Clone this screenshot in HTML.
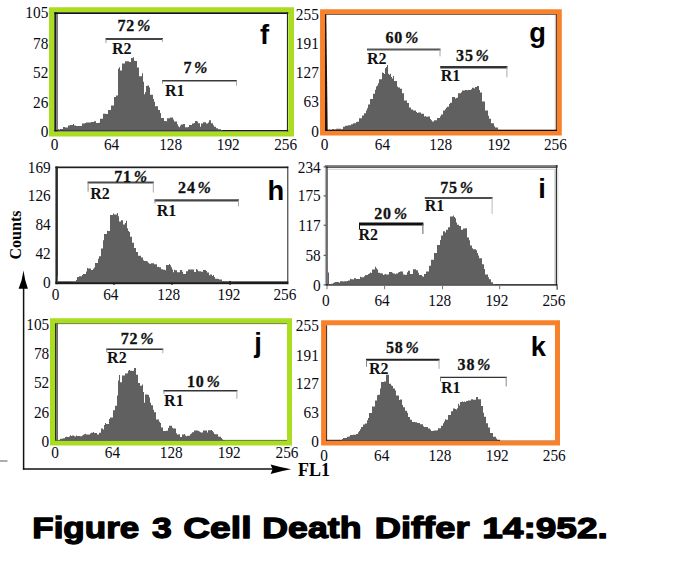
<!DOCTYPE html>
<html><head><meta charset="utf-8"><title>Figure 3</title>
<style>
html,body{margin:0;padding:0;background:#fff;}
body{width:680px;height:562px;overflow:hidden;font-family:"Liberation Serif",serif;}
svg{display:block;}
</style></head>
<body>
<svg width="680" height="562" viewBox="0 0 680 562">
<rect width="680" height="562" fill="#fff"/>
<path fill-rule="evenodd" fill="#aadc20" d="M49,7.2H294V136.6H49ZM54.3,12.3H288.3V131.4H54.3Z"/>
<rect x="54.3" y="12.3" width="1.9" height="119.1" fill="#1c1c1c"/>
<rect x="56.2" y="12.3" width="1.7" height="119.1" fill="#6c6c6c"/>
<rect x="54.3" y="12.3" width="234" height="1.7" fill="#111"/>
<rect x="286.9" y="12.3" width="1.1" height="119.1" fill="#2a2a2a"/>
<rect x="54.3" y="130" width="234" height="1.4" fill="#1c1c1c"/>
<path d="M58,130.5L58,129.3L59,129.3L59,129.5L60,129.5L60,129.0L62,129.0L62,129.0L63,129.0L63,127.0L65,127.0L65,127.5L66,127.5L66,127.6L67,127.6L67,127.6L68,127.6L68,125.4L70,125.4L70,125.0L73,125.0L73,124.1L74,124.1L74,125.4L76,125.4L76,125.9L79,125.9L79,126.0L80,126.0L80,126.0L82,126.0L82,123.5L85,123.5L85,122.9L86,122.9L86,122.4L89,122.4L89,122.5L91,122.5L91,121.9L92,121.9L92,122.0L94,122.0L94,121.3L96,121.3L96,123.0L99,123.0L99,122.8L100,122.8L100,118.7L103,118.7L103,113.8L106,113.8L106,114.0L108,114.0L108,110.1L111,110.1L111,105.4L114,105.4L114,96.9L116,96.9L116,95.6L118,95.6L118,68.7L119,68.7L119,67.2L120,67.2L120,70.4L122,70.4L122,63.4L125,63.4L125,61.3L126,61.3L126,61.3L129,61.3L129,61.9L131,61.9L131,58.0L133,58.0L133,57.3L134,57.3L134,60.7L135,60.7L135,61.0L137,61.0L137,67.6L139,67.6L139,76.2L142,76.2L142,73.3L143,73.3L143,81.8L144,81.8L144,94.2L145,94.2L145,92.2L146,92.2L146,86.1L147,86.1L147,85.8L148,85.8L148,85.4L149,85.4L149,87.5L150,87.5L150,94.8L153,94.8L153,99.0L154,99.0L154,101.7L155,101.7L155,106.3L158,106.3L158,110.0L160,110.0L160,113.1L161,113.1L161,118.1L164,118.1L164,120.9L166,120.9L166,121.2L167,121.2L167,118.3L170,118.3L170,117.4L173,117.4L173,119.4L174,119.4L174,121.6L177,121.6L177,124.2L178,124.2L178,126.3L179,126.3L179,127.3L180,127.3L180,125.6L181,125.6L181,124.5L183,124.5L183,124.0L185,124.0L185,127.2L188,127.2L188,127.0L189,127.0L189,125.1L192,125.1L192,123.4L194,123.4L194,123.1L195,123.1L195,121.1L197,121.1L197,121.5L198,121.5L198,123.3L200,123.3L200,126.8L201,126.8L201,123.6L203,123.6L203,122.3L206,122.3L206,123.4L208,123.4L208,122.6L209,122.6L209,120.3L211,120.3L211,123.2L213,123.2L213,125.3L214,125.3L214,126.7L216,126.7L216,128.3L218,128.3L218,129.2L219,129.2L219,129.2L221,129.2L221,130.1L222,130.1L222,130.3L223,130.3L223,130.5Z" fill="#606060"/>
<line x1="105.5" y1="39" x2="163" y2="39" stroke="#444" stroke-width="2"/>
<line x1="106.0" y1="39" x2="106.0" y2="43" stroke="#999" stroke-width="1"/>
<line x1="162.5" y1="39" x2="162.5" y2="42" stroke="#aaa" stroke-width="1"/>
<text x="117.4" y="31" font-size="16" text-anchor="start" font-weight="bold" font-family='"Liberation Serif", serif' fill="#111" letter-spacing="0.8" stroke="#111" stroke-width="0.3">72<tspan font-style="italic" dx="1.9">%</tspan></text>
<text x="112.0" y="54" font-size="16" text-anchor="start" font-weight="bold" font-family='"Liberation Serif", serif' fill="#111">R2</text>
<line x1="162" y1="80.7" x2="237" y2="80.7" stroke="#3a3a3a" stroke-width="1.5"/>
<line x1="162.5" y1="80.7" x2="162.5" y2="83.7" stroke="#999" stroke-width="1"/>
<line x1="236.5" y1="80.7" x2="236.5" y2="85.7" stroke="#aaa" stroke-width="1"/>
<text x="183.4" y="73" font-size="16" text-anchor="start" font-weight="bold" font-family='"Liberation Serif", serif' fill="#111" letter-spacing="0.8" stroke="#111" stroke-width="0.3">7<tspan font-style="italic" dx="1.9">%</tspan></text>
<text x="165.0" y="95.6" font-size="16" text-anchor="start" font-weight="bold" font-family='"Liberation Serif", serif' fill="#111">R1</text>
<text x="260" y="44" font-size="27.3" text-anchor="start" font-weight="bold" font-family='"Liberation Sans", sans-serif' >f</text>
<path fill-rule="evenodd" fill="#f8822b" d="M320.05,9.2H561.8V135.5H320.05ZM325,14.1H557V130.9H325Z"/>
<path d="M325,14.1 L326.3,14.1 L327.7,130.9 L325,130.9 Z" fill="#20140c"/>
<rect x="325" y="14.1" width="232" height="0.8" fill="#5a4030"/>
<rect x="554.8" y="14.9" width="1.2" height="116" fill="#c8c8c8"/>
<rect x="556.1" y="14.1" width="0.9" height="116.8" fill="#50301a"/>
<rect x="325" y="129.7" width="232" height="1.3" fill="#140a06"/>
<path d="M328,130.2L328,129.9L329,129.9L329,129.3L330,129.3L330,130.1L331,130.1L331,130.2L332,130.2L332,129.0L334,129.0L334,129.5L336,129.5L336,128.8L338,128.8L338,128.8L339,128.8L339,128.8L341,128.8L341,129.6L342,129.6L342,128.9L343,128.9L343,126.8L345,126.8L345,125.8L348,125.8L348,125.2L350,125.2L350,125.3L351,125.3L351,124.2L353,124.2L353,123.2L356,123.2L356,122.0L357,122.0L357,121.7L359,121.7L359,118.3L362,118.3L362,115.6L364,115.6L364,113.2L366,113.2L366,110.4L367,110.4L367,108.3L368,108.3L368,104.6L370,104.6L370,98.9L373,98.9L373,93.8L375,93.8L375,89.8L376,89.8L376,86.6L377,86.6L377,85.4L378,85.4L378,83.3L379,83.3L379,79.3L382,79.3L382,72.6L383,72.6L383,73.0L384,73.0L384,74.0L385,74.0L385,68.2L386,68.2L386,67.0L387,67.0L387,65.1L388,65.1L388,73.8L389,73.8L389,74.7L390,74.7L390,73.8L391,73.8L391,76.9L392,76.9L392,78.6L393,78.6L393,76.0L394,76.0L394,81.1L397,81.1L397,86.5L398,86.5L398,87.6L400,87.6L400,88.7L402,88.7L402,93.3L404,93.3L404,100.6L407,100.6L407,103.1L409,103.1L409,107.5L411,107.5L411,109.4L413,109.4L413,110.6L414,110.6L414,110.5L416,110.5L416,111.9L417,111.9L417,113.1L418,113.1L418,112.6L421,112.6L421,113.8L424,113.8L424,116.6L425,116.6L425,115.9L426,115.9L426,116.7L428,116.7L428,116.5L430,116.5L430,118.9L431,118.9L431,120.3L432,120.3L432,121.5L433,121.5L433,121.6L434,121.6L434,120.3L437,120.3L437,118.1L440,118.1L440,116.2L441,116.2L441,114.5L443,114.5L443,110.6L445,110.6L445,109.3L446,109.3L446,107.7L447,107.7L447,106.8L449,106.8L449,104.0L450,104.0L450,102.8L452,102.8L452,97.0L455,97.0L455,98.5L456,98.5L456,98.0L457,98.0L457,97.6L458,97.6L458,93.3L461,93.3L461,92.3L462,92.3L462,90.4L465,90.4L465,89.9L467,89.9L467,90.3L468,90.3L468,89.9L471,89.9L471,89.3L472,89.3L472,87.7L473,87.7L473,87.7L474,87.7L474,88.6L475,88.6L475,86.9L477,86.9L477,86.0L479,86.0L479,90.1L480,90.1L480,92.6L482,92.6L482,101.5L485,101.5L485,110.6L488,110.6L488,115.8L489,115.8L489,118.7L491,118.7L491,123.2L494,123.2L494,126.2L495,126.2L495,127.4L498,127.4L498,129.5L499,129.5L499,130.2Z" fill="#606060"/>
<line x1="367" y1="49.4" x2="440.5" y2="49.4" stroke="#555" stroke-width="2"/>
<line x1="440.0" y1="49.4" x2="440.0" y2="56.4" stroke="#aaa" stroke-width="1"/>
<text x="385.4" y="42.7" font-size="16" text-anchor="start" font-weight="bold" font-family='"Liberation Serif", serif' fill="#111" letter-spacing="0.8" stroke="#111" stroke-width="0.3">60<tspan font-style="italic" dx="1.9">%</tspan></text>
<text x="366.9" y="64" font-size="16" text-anchor="start" font-weight="bold" font-family='"Liberation Serif", serif' fill="#111">R2</text>
<line x1="440.2" y1="67.3" x2="507.4" y2="67.3" stroke="#333" stroke-width="2.6"/>
<line x1="506.9" y1="67.3" x2="506.9" y2="77.3" stroke="#aaa" stroke-width="1"/>
<text x="456.09999999999997" y="60.6" font-size="16" text-anchor="start" font-weight="bold" font-family='"Liberation Serif", serif' fill="#111" letter-spacing="0.8" stroke="#111" stroke-width="0.3">35<tspan font-style="italic" dx="1.9">%</tspan></text>
<text x="440.8" y="81.4" font-size="16" text-anchor="start" font-weight="bold" font-family='"Liberation Serif", serif' fill="#111">R1</text>
<text x="529.2" y="41.8" font-size="27.3" text-anchor="start" font-weight="bold" font-family='"Liberation Sans", sans-serif' >g</text>
<rect x="55.4" y="166.5" width="2.5" height="117.7" fill="#2a2a2a"/>
<rect x="55.4" y="166.5" width="232.9" height="1.7" fill="#1e1e1e"/>
<rect x="287.3" y="166.5" width="1.0" height="117.7" fill="#222"/>
<rect x="55.4" y="281.4" width="232.9" height="2.8" fill="#1c1c1c"/>
<ellipse cx="114" cy="282.8" rx="1.3" ry="2.1" fill="#1c1c1c"/>
<ellipse cx="172" cy="282.8" rx="1.3" ry="2.1" fill="#1c1c1c"/>
<ellipse cx="230.1" cy="282.8" rx="1.3" ry="2.1" fill="#1c1c1c"/>
<path d="M57,282.2L57,276.3L58,276.3L58,282.2L60,282.2L60,282.2L62,282.2L62,282.2L65,282.2L65,282.2L67,282.2L67,282.2L68,282.2L68,282.2L70,282.2L70,282.2L71,282.2L71,282.1L73,282.1L73,282.1L74,282.1L74,282.0L76,282.0L76,279.9L77,279.9L77,276.9L79,276.9L79,276.3L82,276.3L82,275.0L83,275.0L83,274.1L86,274.1L86,271.6L87,271.6L87,268.0L88,268.0L88,268.5L89,268.5L89,268.6L91,268.6L91,270.0L93,270.0L93,268.8L94,268.8L94,267.5L95,267.5L95,263.1L98,263.1L98,258.8L99,258.8L99,256.3L101,256.3L101,248.6L103,248.6L103,240.2L104,240.2L104,233.9L107,233.9L107,230.7L108,230.7L108,231.0L110,231.0L110,215.0L113,215.0L113,213.6L114,213.6L114,214.4L117,214.4L117,213.0L118,213.0L118,216.2L119,216.2L119,221.6L120,221.6L120,221.4L121,221.4L121,220.3L123,220.3L123,224.5L125,224.5L125,223.0L126,223.0L126,220.7L127,220.7L127,228.3L128,228.3L128,230.9L129,230.9L129,232.0L130,232.0L130,236.8L132,236.8L132,242.7L134,242.7L134,248.1L136,248.1L136,252.1L138,252.1L138,255.8L141,255.8L141,257.4L142,257.4L142,257.5L143,257.5L143,260.3L144,260.3L144,261.1L147,261.1L147,261.6L148,261.6L148,262.7L149,262.7L149,263.8L151,263.8L151,263.2L154,263.2L154,264.3L157,264.3L157,266.9L158,266.9L158,266.7L159,266.7L159,267.3L161,267.3L161,269.3L163,269.3L163,269.8L165,269.8L165,270.2L166,270.2L166,265.0L169,265.0L169,263.9L170,263.9L170,265.2L171,265.2L171,267.2L172,267.2L172,269.5L173,269.5L173,272.3L174,272.3L174,269.8L175,269.8L175,270.2L177,270.2L177,272.2L180,272.2L180,270.0L182,270.0L182,271.7L183,271.7L183,273.9L184,273.9L184,274.1L186,274.1L186,271.3L188,271.3L188,269.6L191,269.6L191,269.6L194,269.6L194,272.1L196,272.1L196,269.0L197,269.0L197,269.8L198,269.8L198,271.3L201,271.3L201,271.8L203,271.8L203,270.0L206,270.0L206,271.1L207,271.1L207,272.4L209,272.4L209,275.2L210,275.2L210,274.5L212,274.5L212,276.0L213,276.0L213,275.0L214,275.0L214,277.1L215,277.1L215,278.7L218,278.7L218,279.0L219,279.0L219,279.6L221,279.6L221,279.4L222,279.4L222,281.0L223,281.0L223,281.2L224,281.2L224,281.4L226,281.4L226,280.9L227,280.9L227,281.9L229,281.9L229,282.2L230,282.2L230,281.8L231,281.8L231,282.0L233,282.0L233,282.2Z" fill="#606060"/>
<line x1="87.6" y1="182.6" x2="153.8" y2="182.6" stroke="#4a4a4a" stroke-width="2"/>
<line x1="88.1" y1="182.6" x2="88.1" y2="191.6" stroke="#888" stroke-width="1"/>
<line x1="153.3" y1="182.6" x2="153.3" y2="192.6" stroke="#aaa" stroke-width="1"/>
<text x="114.2" y="181.5" font-size="16" text-anchor="start" font-weight="bold" font-family='"Liberation Serif", serif' fill="#111" letter-spacing="0.8" stroke="#111" stroke-width="0.3">71<tspan font-style="italic" dx="1.9">%</tspan></text>
<text x="90.2" y="199.4" font-size="16" text-anchor="start" font-weight="bold" font-family='"Liberation Serif", serif' fill="#111">R2</text>
<line x1="154.5" y1="200.4" x2="239" y2="200.4" stroke="#444" stroke-width="2.4"/>
<line x1="155.0" y1="200.4" x2="155.0" y2="203.4" stroke="#999" stroke-width="1"/>
<line x1="238.5" y1="200.4" x2="238.5" y2="206.4" stroke="#aaa" stroke-width="1"/>
<text x="178.1" y="193.2" font-size="16" text-anchor="start" font-weight="bold" font-family='"Liberation Serif", serif' fill="#111" letter-spacing="0.8" stroke="#111" stroke-width="0.3">24<tspan font-style="italic" dx="1.9">%</tspan></text>
<text x="156.8" y="216" font-size="16" text-anchor="start" font-weight="bold" font-family='"Liberation Serif", serif' fill="#111">R1</text>
<text x="267.6" y="200" font-size="27.3" text-anchor="start" font-weight="bold" font-family='"Liberation Sans", sans-serif' >h</text>
<rect x="324.9" y="165" width="1.1" height="120.6" fill="#b4b4b4"/>
<rect x="326" y="165" width="1.9" height="120.6" fill="#6a6a6a"/>
<rect x="324.9" y="165" width="233" height="1.6" fill="#8a8a8a"/>
<rect x="326" y="166.6" width="231.4" height="1.1" fill="#1a1a1a"/>
<rect x="328" y="168.8" width="226.4" height="0.8" fill="#c0c0c0"/>
<rect x="554.3" y="168.8" width="1.6" height="115.4" fill="#cccccc"/>
<rect x="555.9" y="165" width="1.4" height="120.6" fill="#333"/>
<rect x="557.3" y="168" width="1.6" height="116" fill="#efefef"/>
<rect x="326" y="284.2" width="231.4" height="1.4" fill="#161616"/>
<line x1="323.6" y1="166.9" x2="326" y2="166.9" stroke="#444" stroke-width="1"/>
<line x1="323.6" y1="195.9" x2="326" y2="195.9" stroke="#444" stroke-width="1"/>
<line x1="323.6" y1="225.2" x2="326" y2="225.2" stroke="#444" stroke-width="1"/>
<line x1="323.6" y1="255.3" x2="326" y2="255.3" stroke="#444" stroke-width="1"/>
<line x1="323.6" y1="284.9" x2="326" y2="284.9" stroke="#444" stroke-width="1"/>
<rect x="326.5" y="285.6" width="1.0" height="3.6" fill="#777"/>
<rect x="384.1" y="285.6" width="1.0" height="3.6" fill="#777"/>
<rect x="442.0" y="285.6" width="1.0" height="3.6" fill="#777"/>
<rect x="499.2" y="285.6" width="1.0" height="3.6" fill="#777"/>
<rect x="556.6" y="285.6" width="1.0" height="4.2" fill="#222"/>
<path d="M328,284.7L328,272.4L329,272.4L329,284.3L331,284.3L331,283.7L333,283.7L333,283.1L334,283.1L334,282.4L335,282.4L335,282.1L336,282.1L336,282.0L339,282.0L339,282.7L340,282.7L340,281.3L343,281.3L343,281.4L344,281.4L344,281.3L347,281.3L347,280.9L348,280.9L348,280.6L350,280.6L350,278.7L351,278.7L351,279.3L353,279.3L353,279.4L354,279.4L354,278.1L355,278.1L355,278.2L356,278.2L356,278.9L357,278.9L357,278.9L360,278.9L360,276.8L361,276.8L361,277.2L364,277.2L364,276.2L365,276.2L365,275.1L368,275.1L368,274.1L369,274.1L369,273.5L370,273.5L370,272.5L371,272.5L371,273.1L372,273.1L372,269.6L375,269.6L375,266.8L376,266.8L376,268.2L377,268.2L377,269.5L378,269.5L378,272.7L380,272.7L380,273.2L382,273.2L382,273.5L383,273.5L383,274.9L384,274.9L384,274.4L385,274.4L385,273.9L386,273.9L386,274.4L388,274.4L388,274.6L389,274.6L389,272.1L392,272.1L392,272.7L393,272.7L393,273.4L395,273.4L395,274.3L396,274.3L396,273.6L398,273.6L398,272.5L399,272.5L399,272.1L400,272.1L400,271.5L403,271.5L403,274.4L405,274.4L405,274.9L406,274.9L406,274.7L407,274.7L407,272.3L408,272.3L408,270.7L410,270.7L410,274.1L413,274.1L413,269.3L416,269.3L416,270.3L418,270.3L418,272.8L419,272.8L419,275.1L422,275.1L422,276.3L423,276.3L423,276.8L424,276.8L424,274.0L426,274.0L426,271.4L429,271.4L429,265.8L431,265.8L431,259.7L434,259.7L434,253.0L437,253.0L437,244.9L440,244.9L440,239.9L441,239.9L441,235.5L443,235.5L443,231.3L445,231.3L445,232.4L446,232.4L446,229.7L448,229.7L448,227.2L450,227.2L450,216.5L453,216.5L453,215.6L454,215.6L454,217.1L455,217.1L455,218.3L456,218.3L456,222.5L457,222.5L457,224.8L459,224.8L459,226.1L461,226.1L461,229.7L463,229.7L463,228.4L465,228.4L465,228.3L467,228.3L467,237.4L469,237.4L469,240.2L470,240.2L470,245.5L472,245.5L472,248.2L473,248.2L473,249.2L476,249.2L476,250.3L477,250.3L477,252.9L478,252.9L478,255.6L479,255.6L479,258.3L482,258.3L482,264.2L484,264.2L484,269.1L485,269.1L485,274.6L488,274.6L488,277.2L489,277.2L489,279.2L491,279.2L491,282.3L493,282.3L493,284.3L494,284.3L494,284.3L495,284.3L495,284.7Z" fill="#606060"/>
<line x1="359" y1="224" x2="423.4" y2="224" stroke="#111" stroke-width="3"/>
<line x1="359.5" y1="224" x2="359.5" y2="229" stroke="#111" stroke-width="1"/>
<line x1="422.9" y1="224" x2="422.9" y2="234" stroke="#666" stroke-width="1"/>
<text x="374.29999999999995" y="218.9" font-size="16" text-anchor="start" font-weight="bold" font-family='"Liberation Serif", serif' fill="#111" letter-spacing="0.8" stroke="#111" stroke-width="0.3">20<tspan font-style="italic" dx="1.9">%</tspan></text>
<text x="358.4" y="240.2" font-size="16" text-anchor="start" font-weight="bold" font-family='"Liberation Serif", serif' fill="#111">R2</text>
<line x1="424.8" y1="198" x2="492.6" y2="198" stroke="#111" stroke-width="1.3"/>
<line x1="492.1" y1="198" x2="492.1" y2="214" stroke="#bbb" stroke-width="1"/>
<text x="440.2" y="192.7" font-size="16" text-anchor="start" font-weight="bold" font-family='"Liberation Serif", serif' fill="#111" letter-spacing="0.8" stroke="#111" stroke-width="0.3">75<tspan font-style="italic" dx="1.9">%</tspan></text>
<text x="424.8" y="211.4" font-size="16" text-anchor="start" font-weight="bold" font-family='"Liberation Serif", serif' fill="#111">R1</text>
<text x="538.3" y="198" font-size="27.3" text-anchor="start" font-weight="bold" font-family='"Liberation Sans", sans-serif' >i</text>
<path fill-rule="evenodd" fill="#aadc20" d="M50,318.2H292V445.5H50ZM55,323.3H287V440.6H55Z"/>
<rect x="55" y="323.3" width="1.6" height="117.3" fill="#2a3010"/>
<rect x="56.6" y="323.3" width="1.4" height="117.3" fill="#6c6c6c"/>
<rect x="55" y="323.3" width="232" height="0.8" fill="#556020"/>
<rect x="55" y="439.9" width="232" height="0.8" fill="#4a5a18"/>
<path d="M58,440.8L58,440.5L60,440.5L60,438.7L63,438.7L63,438.2L65,438.2L65,436.9L66,436.9L66,436.8L67,436.8L67,437.0L69,437.0L69,436.5L70,436.5L70,435.2L71,435.2L71,436.0L72,436.0L72,435.6L74,435.6L74,436.3L75,436.3L75,436.4L76,436.4L76,435.4L77,435.4L77,436.0L79,436.0L79,436.1L80,436.1L80,436.3L82,436.3L82,435.6L83,435.6L83,434.8L84,434.8L84,434.2L85,434.2L85,433.8L86,433.8L86,434.4L88,434.4L88,434.4L90,434.4L90,433.5L91,433.5L91,432.8L93,432.8L93,432.1L94,432.1L94,432.9L96,432.9L96,432.9L97,432.9L97,434.5L99,434.5L99,432.7L101,432.7L101,428.4L103,428.4L103,429.6L104,429.6L104,425.1L105,425.1L105,422.9L106,422.9L106,423.9L109,423.9L109,419.0L110,419.0L110,417.6L113,417.6L113,410.2L115,410.2L115,405.8L117,405.8L117,395.5L118,395.5L118,380.4L119,380.4L119,375.1L120,375.1L120,382.3L122,382.3L122,375.4L125,375.4L125,373.6L127,373.6L127,373.3L128,373.3L128,370.8L129,370.8L129,370.0L130,370.0L130,370.7L132,370.7L132,370.9L133,370.9L133,370.7L134,370.7L134,368.1L136,368.1L136,374.7L138,374.7L138,382.9L140,382.9L140,385.8L142,385.8L142,384.5L143,384.5L143,391.9L144,391.9L144,402.7L145,402.7L145,394.5L148,394.5L148,394.9L149,394.9L149,397.6L150,397.6L150,402.7L151,402.7L151,405.2L153,405.2L153,409.7L154,409.7L154,412.3L156,412.3L156,419.5L159,419.5L159,421.7L160,421.7L160,423.1L161,423.1L161,427.4L163,427.4L163,431.0L166,431.0L166,430.7L168,430.7L168,427.9L169,427.9L169,425.7L172,425.7L172,427.7L173,427.7L173,428.6L176,428.6L176,433.2L177,433.2L177,434.4L179,434.4L179,434.3L180,434.3L180,436.9L182,436.9L182,434.5L184,434.5L184,433.9L185,433.9L185,435.5L186,435.5L186,436.2L187,436.2L187,435.7L190,435.7L190,434.3L191,434.3L191,433.4L192,433.4L192,432.3L194,432.3L194,430.5L195,430.5L195,430.6L198,430.6L198,430.9L199,430.9L199,431.4L200,431.4L200,432.2L201,432.2L201,432.5L203,432.5L203,430.4L205,430.4L205,430.6L207,430.6L207,432.6L208,432.6L208,430.3L211,430.3L211,430.0L212,430.0L212,431.1L213,431.1L213,432.3L214,432.3L214,434.0L215,434.0L215,434.3L218,434.3L218,436.4L219,436.4L219,436.8L221,436.8L221,438.1L222,438.1L222,439.3L223,439.3L223,440.1L224,440.1L224,440.2L225,440.2L225,440.8Z" fill="#606060"/>
<line x1="106.2" y1="349.2" x2="163.3" y2="349.2" stroke="#333" stroke-width="1.5"/>
<line x1="106.7" y1="349.2" x2="106.7" y2="352.2" stroke="#999" stroke-width="1"/>
<line x1="162.8" y1="349.2" x2="162.8" y2="353.2" stroke="#aaa" stroke-width="1"/>
<text x="120.80000000000001" y="344" font-size="16" text-anchor="start" font-weight="bold" font-family='"Liberation Serif", serif' fill="#111" letter-spacing="0.8" stroke="#111" stroke-width="0.3">72<tspan font-style="italic" dx="1.9">%</tspan></text>
<text x="107.1" y="363.3" font-size="16" text-anchor="start" font-weight="bold" font-family='"Liberation Serif", serif' fill="#111">R2</text>
<line x1="163.5" y1="390.8" x2="237.4" y2="390.8" stroke="#333" stroke-width="1.5"/>
<line x1="164.0" y1="390.8" x2="164.0" y2="393.8" stroke="#999" stroke-width="1"/>
<line x1="236.9" y1="390.8" x2="236.9" y2="398.8" stroke="#aaa" stroke-width="1"/>
<text x="186.9" y="386.7" font-size="16" text-anchor="start" font-weight="bold" font-family='"Liberation Serif", serif' fill="#111" letter-spacing="0.8" stroke="#111" stroke-width="0.3">10<tspan font-style="italic" dx="1.9">%</tspan></text>
<text x="164.1" y="406" font-size="16" text-anchor="start" font-weight="bold" font-family='"Liberation Serif", serif' fill="#111">R1</text>
<text x="254.3" y="352" font-size="27.3" text-anchor="start" font-weight="bold" font-family='"Liberation Sans", sans-serif' >j</text>
<path fill-rule="evenodd" fill="#f8822b" d="M321.1,320.2H560V445.4H321.1ZM326.1,325.3H555V440.7H326.1Z"/>
<rect x="326.1" y="325.3" width="1.0" height="115.4" fill="#3a2414"/>
<rect x="326.1" y="439.8" width="174" height="1.0" fill="#20140c"/>
<rect x="500" y="440.1" width="55" height="0.6" fill="#b08060"/>
<path d="M335,440.6L335,440.6L337,440.6L337,440.6L338,440.6L338,440.6L340,440.6L340,440.6L341,440.6L341,440.3L342,440.3L342,439.1L343,439.1L343,437.9L346,437.9L346,438.1L347,438.1L347,436.8L349,436.8L349,436.4L350,436.4L350,435.1L353,435.1L353,434.7L356,434.7L356,433.9L357,433.9L357,434.0L358,434.0L358,432.3L359,432.3L359,431.1L360,431.1L360,429.2L361,429.2L361,427.1L363,427.1L363,424.6L365,424.6L365,423.4L367,423.4L367,420.3L368,420.3L368,417.9L369,417.9L369,413.1L372,413.1L372,406.6L375,406.6L375,400.6L377,400.6L377,395.2L378,395.2L378,394.7L380,394.7L380,388.6L381,388.6L381,382.1L384,382.1L384,381.6L386,381.6L386,374.8L389,374.8L389,383.8L391,383.8L391,385.5L392,385.5L392,386.0L393,386.0L393,388.6L395,388.6L395,390.5L396,390.5L396,395.4L399,395.4L399,399.9L400,399.9L400,399.4L402,399.4L402,404.9L403,404.9L403,407.2L405,407.2L405,410.7L407,410.7L407,412.8L408,412.8L408,417.1L410,417.1L410,419.7L412,419.7L412,421.9L415,421.9L415,422.2L417,422.2L417,423.1L419,423.1L419,423.0L420,423.0L420,424.2L423,424.2L423,426.3L424,426.3L424,427.0L425,427.0L425,427.1L427,427.1L427,427.1L428,427.1L428,428.6L430,428.6L430,429.4L431,429.4L431,431.1L433,431.1L433,430.7L434,430.7L434,430.6L437,430.6L437,430.2L438,430.2L438,428.2L441,428.2L441,425.7L443,425.7L443,423.3L444,423.3L444,421.6L445,421.6L445,419.2L446,419.2L446,419.8L448,419.8L448,415.0L451,415.0L451,411.3L453,411.3L453,408.5L455,408.5L455,408.9L456,408.9L456,409.4L457,409.4L457,408.2L458,408.2L458,403.8L459,403.8L459,405.5L460,405.5L460,401.9L462,401.9L462,401.6L463,401.6L463,401.9L464,401.9L464,401.4L465,401.4L465,401.9L466,401.9L466,400.9L468,400.9L468,400.5L470,400.5L470,400.4L471,400.4L471,399.3L473,399.3L473,399.7L476,399.7L476,397.1L478,397.1L478,399.2L481,399.2L481,405.9L483,405.9L483,412.8L484,412.8L484,416.8L486,416.8L486,423.3L488,423.3L488,427.5L490,427.5L490,433.1L493,433.1L493,436.8L496,436.8L496,438.5L497,438.5L497,440.6L499,440.6L499,440.6Z" fill="#606060"/>
<line x1="366" y1="359.8" x2="439.5" y2="359.8" stroke="#222" stroke-width="2"/>
<line x1="366.5" y1="359.8" x2="366.5" y2="366.8" stroke="#888" stroke-width="1"/>
<line x1="439.0" y1="359.8" x2="439.0" y2="368.8" stroke="#aaa" stroke-width="1"/>
<text x="386.0" y="353.4" font-size="16" text-anchor="start" font-weight="bold" font-family='"Liberation Serif", serif' fill="#111" letter-spacing="0.8" stroke="#111" stroke-width="0.3">58<tspan font-style="italic" dx="1.9">%</tspan></text>
<text x="369.0" y="374.2" font-size="16" text-anchor="start" font-weight="bold" font-family='"Liberation Serif", serif' fill="#111">R2</text>
<line x1="440" y1="377.4" x2="506.7" y2="377.4" stroke="#333" stroke-width="1.4"/>
<line x1="440.5" y1="377.4" x2="440.5" y2="381.4" stroke="#888" stroke-width="1"/>
<line x1="506.2" y1="377.4" x2="506.2" y2="386.4" stroke="#888" stroke-width="1"/>
<text x="457.59999999999997" y="370.2" font-size="16" text-anchor="start" font-weight="bold" font-family='"Liberation Serif", serif' fill="#111" letter-spacing="0.8" stroke="#111" stroke-width="0.3">38<tspan font-style="italic" dx="1.9">%</tspan></text>
<text x="440.9" y="393.4" font-size="16" text-anchor="start" font-weight="bold" font-family='"Liberation Serif", serif' fill="#111">R1</text>
<text x="530.7" y="356" font-size="27.3" text-anchor="start" font-weight="bold" font-family='"Liberation Sans", sans-serif' >k</text>
<text transform="translate(48.3,18.4) scale(1,1.07)" font-size="15.3" text-anchor="end" font-family='"Liberation Serif", serif' fill="#0a0a14">105</text>
<text transform="translate(48.3,48.5) scale(1,1.07)" font-size="15.3" text-anchor="end" font-family='"Liberation Serif", serif' fill="#0a0a14">78</text>
<text transform="translate(48.3,77.8) scale(1,1.07)" font-size="15.3" text-anchor="end" font-family='"Liberation Serif", serif' fill="#0a0a14">52</text>
<text transform="translate(48.3,107.6) scale(1,1.07)" font-size="15.3" text-anchor="end" font-family='"Liberation Serif", serif' fill="#0a0a14">26</text>
<text transform="translate(48.3,136.6) scale(1,1.07)" font-size="15.3" text-anchor="end" font-family='"Liberation Serif", serif' fill="#0a0a14">0</text>
<text transform="translate(318.8,20) scale(1,1.07)" font-size="15.3" text-anchor="end" font-family='"Liberation Serif", serif' fill="#0a0a14">255</text>
<text transform="translate(318.8,49) scale(1,1.07)" font-size="15.3" text-anchor="end" font-family='"Liberation Serif", serif' fill="#0a0a14">191</text>
<text transform="translate(318.8,77.8) scale(1,1.07)" font-size="15.3" text-anchor="end" font-family='"Liberation Serif", serif' fill="#0a0a14">127</text>
<text transform="translate(318.8,107.4) scale(1,1.07)" font-size="15.3" text-anchor="end" font-family='"Liberation Serif", serif' fill="#0a0a14">63</text>
<text transform="translate(318.8,136.5) scale(1,1.07)" font-size="15.3" text-anchor="end" font-family='"Liberation Serif", serif' fill="#0a0a14">0</text>
<text transform="translate(50.7,172.6) scale(1,1.07)" font-size="15.3" text-anchor="end" font-family='"Liberation Serif", serif' fill="#0a0a14">169</text>
<text transform="translate(50.7,201) scale(1,1.07)" font-size="15.3" text-anchor="end" font-family='"Liberation Serif", serif' fill="#0a0a14">126</text>
<text transform="translate(50.7,229.9) scale(1,1.07)" font-size="15.3" text-anchor="end" font-family='"Liberation Serif", serif' fill="#0a0a14">84</text>
<text transform="translate(50.7,258.9) scale(1,1.07)" font-size="15.3" text-anchor="end" font-family='"Liberation Serif", serif' fill="#0a0a14">42</text>
<text transform="translate(50.7,288.1) scale(1,1.07)" font-size="15.3" text-anchor="end" font-family='"Liberation Serif", serif' fill="#0a0a14">0</text>
<text transform="translate(320.7,172.6) scale(1,1.07)" font-size="15.3" text-anchor="end" font-family='"Liberation Serif", serif' fill="#0a0a14">234</text>
<text transform="translate(320.7,201.3) scale(1,1.07)" font-size="15.3" text-anchor="end" font-family='"Liberation Serif", serif' fill="#0a0a14">175</text>
<text transform="translate(320.7,230.7) scale(1,1.07)" font-size="15.3" text-anchor="end" font-family='"Liberation Serif", serif' fill="#0a0a14">117</text>
<text transform="translate(320.7,260.8) scale(1,1.07)" font-size="15.3" text-anchor="end" font-family='"Liberation Serif", serif' fill="#0a0a14">58</text>
<text transform="translate(320.7,290.6) scale(1,1.07)" font-size="15.3" text-anchor="end" font-family='"Liberation Serif", serif' fill="#0a0a14">0</text>
<text transform="translate(49.2,329.8) scale(1,1.07)" font-size="15.3" text-anchor="end" font-family='"Liberation Serif", serif' fill="#0a0a14">105</text>
<text transform="translate(49.2,358.6) scale(1,1.07)" font-size="15.3" text-anchor="end" font-family='"Liberation Serif", serif' fill="#0a0a14">78</text>
<text transform="translate(49.2,388.2) scale(1,1.07)" font-size="15.3" text-anchor="end" font-family='"Liberation Serif", serif' fill="#0a0a14">52</text>
<text transform="translate(49.2,417.8) scale(1,1.07)" font-size="15.3" text-anchor="end" font-family='"Liberation Serif", serif' fill="#0a0a14">26</text>
<text transform="translate(49.2,446.8) scale(1,1.07)" font-size="15.3" text-anchor="end" font-family='"Liberation Serif", serif' fill="#0a0a14">0</text>
<text transform="translate(318.8,330.6) scale(1,1.07)" font-size="15.3" text-anchor="end" font-family='"Liberation Serif", serif' fill="#0a0a14">255</text>
<text transform="translate(318.8,361.2) scale(1,1.07)" font-size="15.3" text-anchor="end" font-family='"Liberation Serif", serif' fill="#0a0a14">191</text>
<text transform="translate(318.8,389.2) scale(1,1.07)" font-size="15.3" text-anchor="end" font-family='"Liberation Serif", serif' fill="#0a0a14">127</text>
<text transform="translate(318.8,418.1) scale(1,1.07)" font-size="15.3" text-anchor="end" font-family='"Liberation Serif", serif' fill="#0a0a14">63</text>
<text transform="translate(318.8,447.3) scale(1,1.07)" font-size="15.3" text-anchor="end" font-family='"Liberation Serif", serif' fill="#0a0a14">0</text>
<text transform="translate(54.6,150) scale(1,1.07)" font-size="15.3" text-anchor="middle" font-family='"Liberation Serif", serif' fill="#0a0a14">0</text>
<text transform="translate(111.6,150) scale(1,1.07)" font-size="15.3" text-anchor="middle" font-family='"Liberation Serif", serif' fill="#0a0a14">64</text>
<text transform="translate(170.6,150) scale(1,1.07)" font-size="15.3" text-anchor="middle" font-family='"Liberation Serif", serif' fill="#0a0a14">128</text>
<text transform="translate(228.3,150) scale(1,1.07)" font-size="15.3" text-anchor="middle" font-family='"Liberation Serif", serif' fill="#0a0a14">192</text>
<text transform="translate(285.6,150) scale(1,1.07)" font-size="15.3" text-anchor="middle" font-family='"Liberation Serif", serif' fill="#0a0a14">256</text>
<text transform="translate(324.5,149.8) scale(1,1.07)" font-size="15.3" text-anchor="middle" font-family='"Liberation Serif", serif' fill="#0a0a14">0</text>
<text transform="translate(382.5,149.8) scale(1,1.07)" font-size="15.3" text-anchor="middle" font-family='"Liberation Serif", serif' fill="#0a0a14">64</text>
<text transform="translate(440.7,149.8) scale(1,1.07)" font-size="15.3" text-anchor="middle" font-family='"Liberation Serif", serif' fill="#0a0a14">128</text>
<text transform="translate(499,149.8) scale(1,1.07)" font-size="15.3" text-anchor="middle" font-family='"Liberation Serif", serif' fill="#0a0a14">192</text>
<text transform="translate(555.4,149.8) scale(1,1.07)" font-size="15.3" text-anchor="middle" font-family='"Liberation Serif", serif' fill="#0a0a14">256</text>
<text transform="translate(55.5,300) scale(1,1.07)" font-size="15.3" text-anchor="middle" font-family='"Liberation Serif", serif' fill="#0a0a14">0</text>
<text transform="translate(110.8,300) scale(1,1.07)" font-size="15.3" text-anchor="middle" font-family='"Liberation Serif", serif' fill="#0a0a14">64</text>
<text transform="translate(168.8,300) scale(1,1.07)" font-size="15.3" text-anchor="middle" font-family='"Liberation Serif", serif' fill="#0a0a14">128</text>
<text transform="translate(229,300) scale(1,1.07)" font-size="15.3" text-anchor="middle" font-family='"Liberation Serif", serif' fill="#0a0a14">192</text>
<text transform="translate(284.9,300) scale(1,1.07)" font-size="15.3" text-anchor="middle" font-family='"Liberation Serif", serif' fill="#0a0a14">256</text>
<text transform="translate(325.9,305.7) scale(1,1.07)" font-size="15.3" text-anchor="middle" font-family='"Liberation Serif", serif' fill="#0a0a14">0</text>
<text transform="translate(382.1,305.7) scale(1,1.07)" font-size="15.3" text-anchor="middle" font-family='"Liberation Serif", serif' fill="#0a0a14">64</text>
<text transform="translate(439.8,305.7) scale(1,1.07)" font-size="15.3" text-anchor="middle" font-family='"Liberation Serif", serif' fill="#0a0a14">128</text>
<text transform="translate(496.9,305.7) scale(1,1.07)" font-size="15.3" text-anchor="middle" font-family='"Liberation Serif", serif' fill="#0a0a14">192</text>
<text transform="translate(553.9,305.7) scale(1,1.07)" font-size="15.3" text-anchor="middle" font-family='"Liberation Serif", serif' fill="#0a0a14">256</text>
<text transform="translate(55,458) scale(1,1.07)" font-size="15.3" text-anchor="middle" font-family='"Liberation Serif", serif' fill="#0a0a14">0</text>
<text transform="translate(112.5,458) scale(1,1.07)" font-size="15.3" text-anchor="middle" font-family='"Liberation Serif", serif' fill="#0a0a14">64</text>
<text transform="translate(171.3,458) scale(1,1.07)" font-size="15.3" text-anchor="middle" font-family='"Liberation Serif", serif' fill="#0a0a14">128</text>
<text transform="translate(229.2,458) scale(1,1.07)" font-size="15.3" text-anchor="middle" font-family='"Liberation Serif", serif' fill="#0a0a14">192</text>
<text transform="translate(287,458) scale(1,1.07)" font-size="15.3" text-anchor="middle" font-family='"Liberation Serif", serif' fill="#0a0a14">256</text>
<text transform="translate(324.1,460.5) scale(1,1.07)" font-size="15.3" text-anchor="middle" font-family='"Liberation Serif", serif' fill="#0a0a14">0</text>
<text transform="translate(381.7,460.5) scale(1,1.07)" font-size="15.3" text-anchor="middle" font-family='"Liberation Serif", serif' fill="#0a0a14">64</text>
<text transform="translate(440,460.5) scale(1,1.07)" font-size="15.3" text-anchor="middle" font-family='"Liberation Serif", serif' fill="#0a0a14">128</text>
<text transform="translate(497.3,460.5) scale(1,1.07)" font-size="15.3" text-anchor="middle" font-family='"Liberation Serif", serif' fill="#0a0a14">192</text>
<text transform="translate(554.3,460.5) scale(1,1.07)" font-size="15.3" text-anchor="middle" font-family='"Liberation Serif", serif' fill="#0a0a14">256</text>
<text transform="translate(21,235) rotate(-90)" font-size="16" text-anchor="middle" font-weight="bold" font-family='"Liberation Serif", serif'>Counts</text>
<line x1="23.6" y1="285" x2="23.6" y2="469.6" stroke="#111" stroke-width="1.5"/>
<path d="M23.5,270.6 Q24.6,280 27.9,288.8 L18.6,288.8 Q22.4,280 23.5,270.6 Z" fill="#000"/>
<line x1="22.9" y1="469" x2="275" y2="469" stroke="#111" stroke-width="1.5"/>
<path d="M291.2,469.3 Q281,467.6 270.6,464.6 L272.6,469.3 L270.6,474 Q281,471 291.2,469.3 Z" fill="#000"/>
<text x="298" y="475.7" font-size="18" text-anchor="start" font-weight="bold" font-family='"Liberation Serif", serif' >FL1</text>
<line x1="0" y1="461" x2="7.5" y2="461" stroke="#777" stroke-width="1.2"/>
<text id="cap0" x="32.25" y="538.3" font-size="30" font-weight="bold" font-family='"Liberation Sans", sans-serif' stroke="#000" stroke-width="1.3" stroke-linejoin="round" textLength="107.00" lengthAdjust="spacingAndGlyphs">Figure</text>
<text id="cap1" x="152.00" y="538.3" font-size="30" font-weight="bold" font-family='"Liberation Sans", sans-serif' stroke="#000" stroke-width="1.3" stroke-linejoin="round" textLength="19.75" lengthAdjust="spacingAndGlyphs">3</text>
<text id="cap2" x="183.25" y="538.3" font-size="30" font-weight="bold" font-family='"Liberation Sans", sans-serif' stroke="#000" stroke-width="1.3" stroke-linejoin="round" textLength="68.25" lengthAdjust="spacingAndGlyphs">Cell</text>
<text id="cap3" x="262.25" y="538.3" font-size="30" font-weight="bold" font-family='"Liberation Sans", sans-serif' stroke="#000" stroke-width="1.3" stroke-linejoin="round" textLength="99.25" lengthAdjust="spacingAndGlyphs">Death</text>
<text id="cap4" x="374.75" y="538.3" font-size="30" font-weight="bold" font-family='"Liberation Sans", sans-serif' stroke="#000" stroke-width="1.3" stroke-linejoin="round" textLength="94.75" lengthAdjust="spacingAndGlyphs">Differ</text>
<text id="cap5" x="482.25" y="538.3" font-size="30" font-weight="bold" font-family='"Liberation Sans", sans-serif' stroke="#000" stroke-width="1.3" stroke-linejoin="round" textLength="125.50" lengthAdjust="spacingAndGlyphs">14:952.</text>
</svg>
</body></html>
